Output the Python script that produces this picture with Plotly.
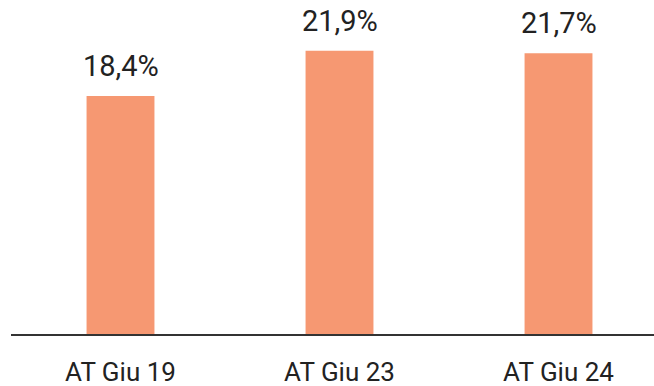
import plotly.graph_objects as go

categories = ["AT Giu 19", "AT Giu 23", "AT Giu 24"]
values = [18.4, 21.9, 21.7]

xpos = list(range(len(categories)))

fig = go.Figure(
    go.Bar(
        x=xpos,
        y=values,
        width=0.31,
        marker=dict(color="#F69872", line=dict(width=0)),
        hoverinfo="skip",
    )
)

# value labels above each bar
for x, v in zip(xpos, values):
    fig.add_annotation(
        x=x,
        y=v,
        text=f"{v:.1f}%".replace(".", ","),
        showarrow=False,
        xanchor="center",
        yanchor="bottom",
        yshift=11,
        font=dict(family="Roboto", size=29, color="#222222"),
    )

fig.update_layout(
    width=654,
    height=386,
    margin=dict(l=11, r=0, t=20, b=52),
    paper_bgcolor="white",
    plot_bgcolor="white",
    showlegend=False,
    font=dict(family="Roboto", color="#222222"),
    xaxis=dict(
        range=[-0.5, 2.436],
        tickmode="array",
        tickvals=xpos,
        ticktext=categories,
        showgrid=False,
        zeroline=False,
        showline=True,
        linecolor="#333333",
        linewidth=2,
        ticks="outside",
        ticklen=14,
        tickcolor="rgba(0,0,0,0)",
        tickfont=dict(family="Roboto", size=26, color="#222222"),
        fixedrange=True,
    ),
    yaxis=dict(
        range=[0, 24.27],
        visible=False,
        fixedrange=True,
    ),
)

fig.write_html("out.html")
